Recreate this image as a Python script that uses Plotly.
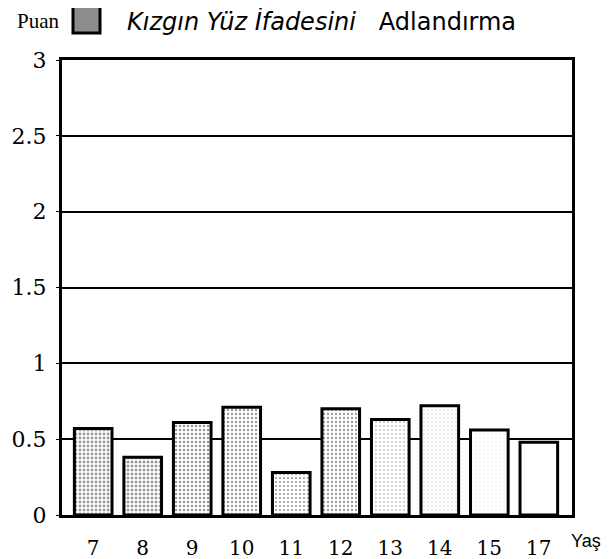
import plotly.graph_objects as go

ages = ["7", "8", "9", "10", "11", "12", "13", "14", "15", "17"]
scores = [0.57, 0.38, 0.61, 0.71, 0.28, 0.70, 0.63, 0.72, 0.56, 0.48]
# stipple density per bar (dark for the young groups, nearly white later)
stipple = [0.40, 0.44, 0.34, 0.28, 0.24, 0.26, 0.13, 0.05, 0.03, 0.0]
y_ticks = [0, 0.5, 1, 1.5, 2, 2.5, 3]
y_labels = ["0", "0.5", "1", "1.5", "2", "2.5", "3"]

serif = "DejaVu Serif"

# the page body keeps its 8px default margin, so the figure is drawn
# 8px smaller and everything below is given in screen pixels
OFF = 8
W, H = 615 - OFF, 559 - OFF
X0, X1, Y0, Y1 = 62, 572, 60, 515  # plot box on screen
PW, PH = X1 - X0, Y1 - Y0


def px(x):
    return (x - X0) / PW


def py(y):
    return (Y1 - y) / PH


fig = go.Figure()
fig.add_trace(
    go.Bar(
        x=ages,
        y=scores,
        width=0.76,
        marker=dict(
            color="white",
            line=dict(color="black", width=3),
            pattern=dict(
                shape=["." if s > 0 else "" for s in stipple],
                fgcolor="#333",
                bgcolor="white",
                size=4,
                solidity=[max(s, 0.01) for s in stipple],
                fillmode="overlay",
            ),
        ),
        showlegend=False,
    )
)

fig.update_layout(
    width=W,
    height=H,
    margin=dict(l=X0 - OFF, r=W - (X1 - OFF), t=Y0 - OFF, b=H - (Y1 - OFF)),
    plot_bgcolor="white",
    paper_bgcolor="white",
    xaxis=dict(
        range=[-0.63, 9.67],
        automargin=False,
        showgrid=False,
        showline=True,
        linecolor="black",
        linewidth=3,
        mirror=True,
        ticks="",
        tickfont=dict(family=serif, size=20, color="black"),
        ticklabelstandoff=13,
    ),
    yaxis=dict(
        range=[0, 3],
        automargin=False,
        tickvals=y_ticks,
        ticktext=y_labels,
        showgrid=True,
        gridcolor="black",
        gridwidth=2,
        showline=True,
        linecolor="black",
        linewidth=3,
        mirror=True,
        ticks="outside",
        ticklen=3,
        tickcolor="black",
        tickfont=dict(family=serif, size=22, color="black"),
        ticklabelstandoff=5,
        zeroline=False,
    ),
)

fig.add_annotation(
    text="Puan", xref="paper", yref="paper", x=px(62), y=py(21),
    xanchor="right", yanchor="middle", showarrow=False,
    font=dict(family="Liberation Serif", size=21, color="black"),
)
fig.add_shape(
    type="rect", xref="paper", yref="paper",
    x0=px(73), x1=px(100), y0=py(33), y1=py(4),
    fillcolor="#8c8c8c", line=dict(color="black", width=3),
)
fig.add_annotation(
    text="<i>Kızgın Yüz İfadesini</i>   Adlandırma", xref="paper", yref="paper",
    x=px(125), y=py(21), xanchor="left", yanchor="middle", showarrow=False,
    font=dict(family="DejaVu Sans", size=24, color="black"),
)
fig.add_annotation(
    text="Yaş", xref="paper", yref="paper", x=px(569), y=py(529),
    xanchor="left", yanchor="top", showarrow=False,
    font=dict(family="Liberation Sans", size=18, color="black"),
)

fig.write_html("out.html")
